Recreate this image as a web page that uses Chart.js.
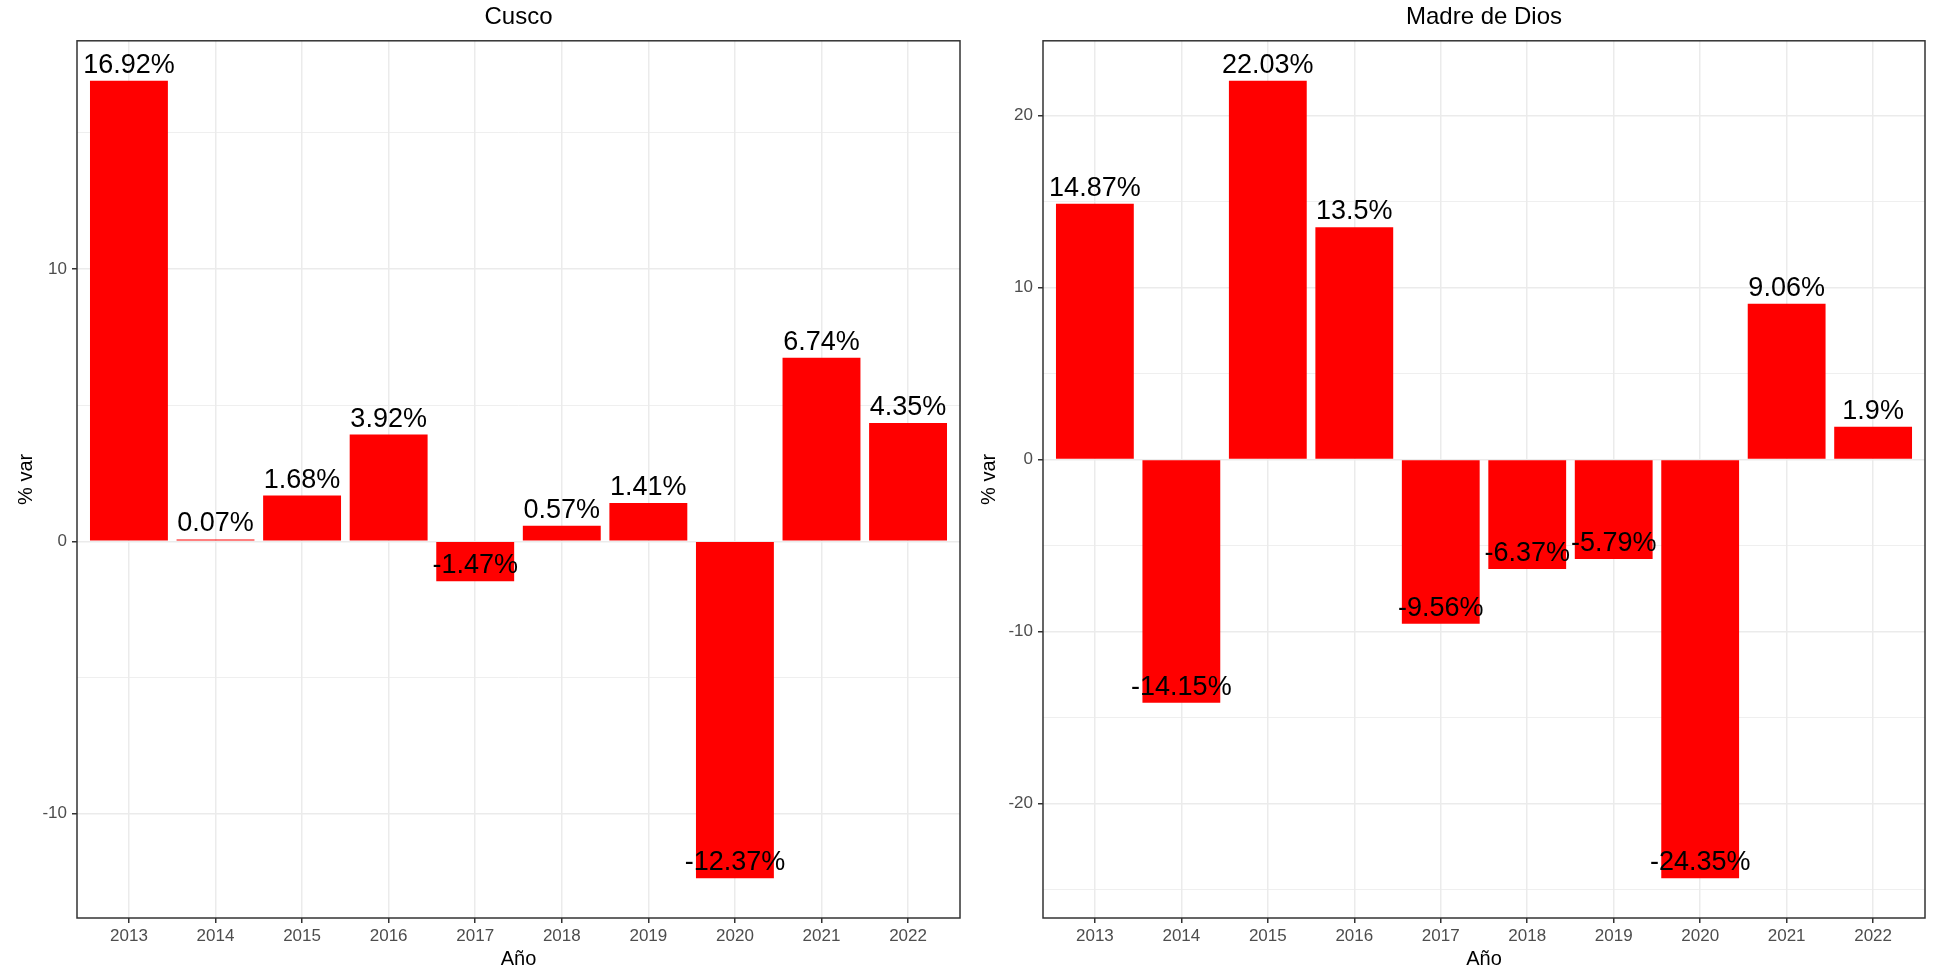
<!DOCTYPE html>
<html>
<head>
<meta charset="utf-8">
<script src="https://cdn.jsdelivr.net/npm/chart.js@4.4.1/dist/chart.umd.min.js"></script>
<style>
  html, body { margin: 0; padding: 0; background: #fff; }
  .panel { position: absolute; top: 0; height: 974px; }
  #left { left: 0; width: 966px; }
  #right { left: 966px; width: 967px; }
</style>
</head>
<body>
<div class="panel" id="left"><canvas id="cusco"></canvas></div>
<div class="panel" id="right"><canvas id="mdd"></canvas></div>
<script>
// datos
const years = ['2013', '2014', '2015', '2016', '2017', '2018', '2019', '2020', '2021', '2022'];
const cuscoVar = [16.92, 0.07, 1.68, 3.92, -1.47, 0.57, 1.41, -12.37, 6.74, 4.35];
const madreDeDiosVar = [14.87, -14.15, 22.03, 13.5, -9.56, -6.37, -5.79, -24.35, 9.06, 1.9];

const FONT = "'Liberation Sans', Arial, sans-serif";
const GRID = '#EBEBEB';
const DARK = '#333333';

// borde del panel + etiquetas de valores
const panelPlugin = {
    id: 'panel',
    afterDatasetsDraw(chart) {
        const { ctx, chartArea } = chart;
        const yScale = chart.scales.y;
        const meta = chart.getDatasetMeta(0);
        const values = chart.data.datasets[0].data;

        ctx.save();
        ctx.font = `27px ${FONT}`;
        ctx.fillStyle = '#000';
        ctx.textAlign = 'center';
        ctx.textBaseline = 'alphabetic';
        meta.data.forEach((bar, i) => {
            const v = values[i].y;
            ctx.fillText(v + '%', bar.x, yScale.getPixelForValue(v) - 8);
        });

        ctx.strokeStyle = DARK;
        ctx.lineWidth = 1.5;
        ctx.strokeRect(chartArea.left, chartArea.top, chartArea.right - chartArea.left, chartArea.bottom - chartArea.top);
        ctx.restore();
    }
};

function isMajor(v) {
    return Math.abs(v % 10) < 1e-9;
}

function makeChart(canvasId, title, values, yTitlePad) {
    const lo = Math.min(...values), hi = Math.max(...values);
    const pad = (hi - lo) * 0.05;

    return new Chart(document.getElementById(canvasId), {
        type: 'bar',
        data: {
            datasets: [{
                data: values.map((v, i) => ({ x: i + 1, y: v })),
                backgroundColor: '#FF0000',
                borderWidth: 0,
                barPercentage: 0.9,
                categoryPercentage: 1.0
            }]
        },
        options: {
            responsive: true,
            maintainAspectRatio: false,
            animation: false,
            devicePixelRatio: 1,
            layout: { padding: { left: 0, right: canvasId === 'cusco' ? 6 : 8, top: 0, bottom: 0 } },
            plugins: {
                legend: { display: false },
                tooltip: { enabled: false },
                title: {
                    display: true,
                    text: title,
                    fullSize: false,
                    color: '#000',
                    font: { family: FONT, size: 24, weight: 'normal' },
                    padding: { top: 3, bottom: 9 }
                }
            },
            scales: {
                x: {
                    type: 'linear',
                    min: 0.4,
                    max: 10.6,
                    offset: false,
                    afterFit: s => { s.height = 56; },
                    border: { display: false },
                    grid: { offset: false, color: GRID, lineWidth: 1.5, tickColor: DARK, tickLength: 5, tickWidth: 1.5 },
                    ticks: {
                        stepSize: 1,
                        includeBounds: false,
                        autoSkip: false,
                        maxRotation: 0,
                        padding: 3,
                        color: '#4D4D4D',
                        font: { family: FONT, size: 17 },
                        callback: v => years[v - 1]
                    },
                    title: {
                        display: true,
                        text: 'Año',
                        color: '#000',
                        font: { family: FONT, size: 20 },
                        padding: { top: 0, bottom: 3 }
                    }
                },
                y: {
                    min: lo - pad,
                    max: hi + pad,
                    afterFit: s => { s.width = 77; },
                    border: { display: false },
                    grid: {
                        color: GRID,
                        lineWidth: c => isMajor(c.tick.value) ? 1.5 : 0.8,
                        tickColor: c => isMajor(c.tick.value) ? DARK : 'rgba(0,0,0,0)',
                        tickLength: 5,
                        tickWidth: 1.5
                    },
                    ticks: {
                        stepSize: 5,
                        includeBounds: false,
                        padding: 5,
                        color: '#4D4D4D',
                        font: { family: FONT, size: 17 },
                        callback: v => isMajor(v) ? String(v) : ''
                    },
                    title: {
                        display: true,
                        text: '% var',
                        color: '#000',
                        font: { family: FONT, size: 20 },
                        padding: { top: yTitlePad, bottom: 0 }
                    }
                }
            }
        },
        plugins: [panelPlugin]
    });
}

makeChart('cusco', 'Cusco', cuscoVar, 14);
makeChart('mdd', 'Madre de Dios', madreDeDiosVar, 11);
</script>
</body>
</html>
